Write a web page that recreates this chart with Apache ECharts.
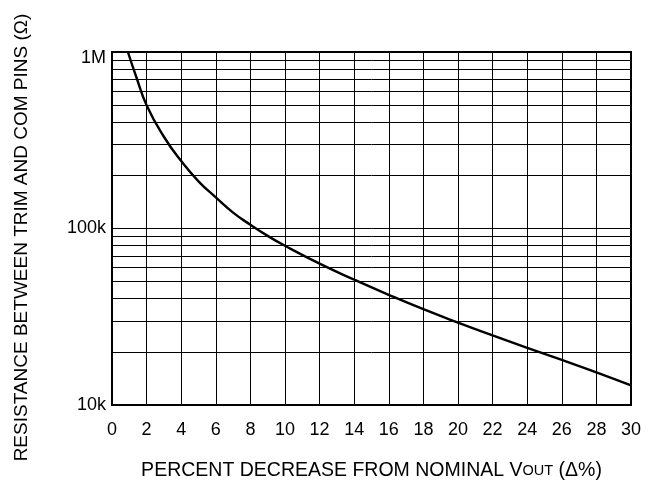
<!DOCTYPE html>
<html>
<head>
<meta charset="utf-8">
<script src="https://cdn.jsdelivr.net/npm/echarts@6/dist/echarts.min.js"></script>
<style>
html,body{margin:0;padding:0;background:#fff;}
#chart{width:652px;height:486px;}
</style>
</head>
<body>
<div id="chart"></div>
<script>
// Data
var percentDecrease = [0.92, 1.4, 2, 3, 4, 5, 6, 7, 8, 9, 10, 12, 14, 16, 18, 20, 22, 24, 26, 28, 30];
var resistance = [1000000, 724000, 500000, 331000, 241000, 185000, 150000, 123000, 105000, 90800, 79800, 63200, 51300, 42100, 34900, 29300, 24800, 21100, 18000, 15300, 12900];
var minorGridValues = [20000, 30000, 40000, 50000, 60000, 70000, 80000, 90000,
                       200000, 300000, 400000, 500000, 600000, 700000, 800000, 900000];
var yTickLabels = {10000: '10k', 100000: '100k', 1000000: '1M'};

var font = 'Liberation Sans, Arial, sans-serif';
var chart = echarts.init(document.getElementById('chart'));
var curve = percentDecrease.map(function (x, i) { return [x, resistance[i]]; });

chart.setOption({
  animation: false,
  backgroundColor: '#fff',
  grid: {left: 112, right: 21, top: 52, bottom: 76, show: true, borderColor: '#000', borderWidth: 2, backgroundColor: 'transparent'},
  xAxis: {
    type: 'value', min: 0, max: 30, interval: 2,
    name: '{a|PERCENT DECREASE FROM NOMINAL V}{b|OUT}{a| (Δ%)}',
    nameLocation: 'middle', nameGap: 56,
    nameTextStyle: {rich: {a: {fontSize: 19.5, color: '#000', fontFamily: font}, b: {fontSize: 14.5, color: '#000', fontFamily: font}}},
    axisLine: {show: true, lineStyle: {color: '#000', width: 2}},
    axisTick: {show: false},
    axisLabel: {color: '#000', fontSize: 18, fontFamily: font, margin: 16},
    splitLine: {show: true, lineStyle: {color: '#000', width: 1}}
  },
  yAxis: {
    type: 'log', logBase: 10, min: 10000, max: 1000000,
    name: 'RESISTANCE BETWEEN TRIM AND COM PINS (Ω)',
    nameLocation: 'middle', nameGap: 81, nameRotate: 90,
    nameTextStyle: {color: '#000', fontSize: 19, fontFamily: font, padding: [0, 18, 0, 0]},
    axisLine: {show: true, lineStyle: {color: '#000', width: 2}},
    axisTick: {show: false},
    axisLabel: {color: '#000', fontSize: 18, fontFamily: font, margin: 6,
      formatter: function (v) {
        var s = yTickLabels[Math.round(v)] || '';
        return s === '1M' ? '{t|' + s + '}' : s;
      },
      rich: {t: {fontSize: 18, fontFamily: font, color: '#000', padding: [12, 0, 0, 0]}}
    },
    splitLine: {show: true, lineStyle: {color: '#000', width: 1}}
  },
  series: [
    {
      type: 'line', data: [], silent: true,
      markLine: {
        silent: true, symbol: ['none', 'none'], label: {show: false},
        lineStyle: {color: '#000', width: 1, type: 'solid'},
        emphasis: {disabled: true},
        data: minorGridValues.map(function (v) { return {yAxis: v}; })
      }
    },
    {
      type: 'line', data: curve, smooth: 0.5, showSymbol: false, z: 5,
      lineStyle: {color: '#000', width: 2.4}
    }
  ]
});
</script>
</body>
</html>
